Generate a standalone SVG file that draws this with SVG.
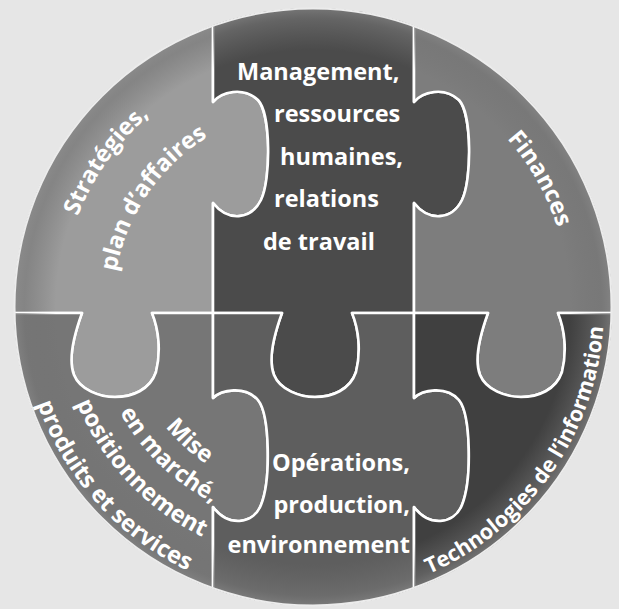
<svg xmlns="http://www.w3.org/2000/svg" xmlns:xlink="http://www.w3.org/1999/xlink" width="619" height="609" viewBox="0 0 619 609">
<style>
.piece{stroke:#ffffff;stroke-width:2.6;stroke-linejoin:round}
.tl{fill:#9c9c9c}.tm{fill:#4b4b4b}.tr{fill:#7d7d7d}
.bl{fill:#767676}.bm{fill:#5e5e5e}.br{fill:#404040}
.rim{fill:url(#rimGrad);stroke:none}
.lbl{font-family:"Open Sans","Liberation Sans",sans-serif;font-weight:700;font-size:23.5px;fill:#ffffff}
</style>
<defs>
<clipPath id="disc"><circle cx="313" cy="307" r="299"/></clipPath>
<radialGradient id="rimGrad" gradientUnits="userSpaceOnUse" cx="313" cy="307" r="299">
<stop offset="0.86" stop-color="#707070" stop-opacity="0"/>
<stop offset="0.965" stop-color="#757575" stop-opacity="0.6"/>
<stop offset="1" stop-color="#858585" stop-opacity="0.75"/>
</radialGradient>
<path id="p-tl" d="M0,0 H213 V102 C221,92 243,86 258,100 C271,114 271,180 261,200 C251,220 228,222 213,203 V313 H152 C159,330 161,352 156,372 C150,390 132,397 115,397 C100,397 80,390 74,375 C68,360 74,335 82,313 H0 Z"/>
<path id="p-tm" d="M213,0 H414 V102 C422,92 444,86 459,100 C472,114 472,180 462,200 C452,220 429,222 414,203 V313 H352 C359,330 361,352 356,372 C350,390 332,397 315,397 C300,397 280,390 274,375 C268,360 274,335 282,313 H213 V203 C228,222 251,220 261,200 C271,180 271,114 258,100 C243,86 221,92 213,102 V0 Z"/>
<path id="p-tr" d="M414,0 H619 V313 H558 C565,330 567,352 562,372 C556,390 538,397 521,397 C506,397 486,390 480,375 C474,360 480,335 488,313 H414 V203 C429,222 452,220 462,200 C472,180 472,114 459,100 C444,86 422,92 414,102 V0 Z"/>
<path id="p-bl" d="M0,313 H82 C74,335 68,360 74,375 C80,390 100,397 115,397 C132,397 150,390 156,372 C161,352 159,330 152,313 H213 V398 C221,390 245,385 258,400 C270,415 271,480 261,505 C253,525 228,527 213,507 V609 H0 Z"/>
<path id="p-bm" d="M213,313 H282 C274,335 268,360 274,375 C280,390 300,397 315,397 C332,397 350,390 356,372 C361,352 359,330 352,313 H414 V398 C422,390 446,385 459,400 C471,415 472,480 462,505 C454,525 429,527 414,507 V609 H213 V507 C228,527 253,525 261,505 C271,480 270,415 258,400 C245,385 221,390 213,398 V313 Z"/>
<path id="p-br" d="M414,313 H488 C480,335 474,360 480,375 C486,390 506,397 521,397 C538,397 556,390 562,372 C567,352 565,330 558,313 H619 V609 H414 V507 C429,527 454,525 462,505 C472,480 471,415 459,400 C446,385 422,390 414,398 V313 Z"/>
<path id="arc-strat" d="M69.2,371.0 A252,252 0 0 1 292.4,55.9"/>
<path id="arc-plan" d="M126.0,378.0 A200,200 0 0 1 310.2,107.0"/>
<path id="arc-fin" d="M359.8,54.3 A257,257 0 0 1 553.7,397.0"/>
<path id="arc-mise" d="M124.6,331.5 A190,190 0 0 0 304.4,496.8"/>
<path id="arc-marche" d="M93.0,309.7 A220,220 0 0 0 315.7,527.0"/>
<path id="arc-pos" d="M58.1,299.0 A255,255 0 0 0 305.0,561.9"/>
<path id="arc-prod" d="M23.9,265.9 A292,292 0 0 0 322.7,598.8"/>
<path id="arc-tech" d="M261.5,593.4 A291,291 0 0 0 565.5,162.4"/>
</defs>
<rect id="background" x="0" y="0" width="619" height="609" fill="#e6e6e6"/>
<g id="puzzle" clip-path="url(#disc)">
<g id="piece-strategies">
<use xlink:href="#p-tl" class="piece tl"/>
<use xlink:href="#p-tl" class="rim"/>
<text class="lbl"><textPath xlink:href="#arc-strat" startOffset="50%" text-anchor="middle">Stratégies,</textPath></text>
<text class="lbl"><textPath xlink:href="#arc-plan" startOffset="50%" text-anchor="middle">plan d’affaires</textPath></text>
</g>
<g id="piece-management">
<use xlink:href="#p-tm" class="piece tm"/>
<use xlink:href="#p-tm" class="rim"/>
<text class="lbl" x="237" y="80">Management,</text>
<text class="lbl" x="274" y="122">ressources</text>
<text class="lbl" x="280" y="165">humaines,</text>
<text class="lbl" x="274" y="207">relations</text>
<text class="lbl" x="263" y="250">de travail</text>
</g>
<g id="piece-finances">
<use xlink:href="#p-tr" class="piece tr"/>
<use xlink:href="#p-tr" class="rim"/>
<text class="lbl"><textPath xlink:href="#arc-fin" startOffset="50%" text-anchor="middle">Finances</textPath></text>
</g>
<g id="piece-mise-en-marche">
<use xlink:href="#p-bl" class="piece bl"/>
<use xlink:href="#p-bl" class="rim"/>
<text class="lbl"><textPath xlink:href="#arc-mise" startOffset="50%" text-anchor="middle">Mise</textPath></text>
<text class="lbl"><textPath xlink:href="#arc-marche" startOffset="50%" text-anchor="middle">en marché,</textPath></text>
<text class="lbl"><textPath xlink:href="#arc-pos" startOffset="50%" text-anchor="middle">positionnement</textPath></text>
<text class="lbl"><textPath xlink:href="#arc-prod" startOffset="50%" text-anchor="middle">produits et services</textPath></text>
</g>
<g id="piece-operations">
<use xlink:href="#p-bm" class="piece bm"/>
<use xlink:href="#p-bm" class="rim"/>
<text class="lbl" x="410" y="471" text-anchor="end">Opérations,</text>
<text class="lbl" x="410" y="513" text-anchor="end">production,</text>
<text class="lbl" x="410" y="553" text-anchor="end">environnement</text>
</g>
<g id="piece-technologies">
<use xlink:href="#p-br" class="piece br"/>
<use xlink:href="#p-br" class="rim"/>
<text class="lbl" style="font-size:21.5px"><textPath xlink:href="#arc-tech" startOffset="50%" text-anchor="middle">Technologies de l’information</textPath></text>
</g>
</g>
<g id="rim-edge">
<circle cx="313" cy="307" r="298.5" fill="none" stroke="#ececec" stroke-width="2"/>
</g>
</svg>
